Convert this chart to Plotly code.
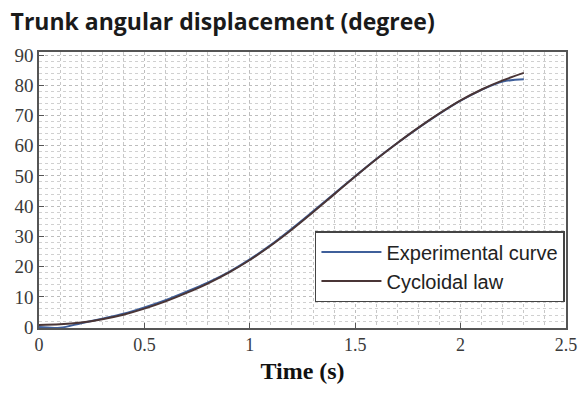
import plotly.graph_objects as go

# Time samples (s)
time_s = [0.0, 0.1, 0.2, 0.3, 0.4, 0.5, 0.6, 0.7, 0.8, 0.9, 1.0, 1.1,
          1.2, 1.3, 1.4, 1.5, 1.6, 1.7, 1.8, 1.9, 2.0, 2.1, 2.2, 2.3]

# Measured trunk angle (degree)
experimental_deg = [0.0, -0.2, 1.3, 2.8, 4.4, 6.5, 8.9, 11.7, 14.7, 18.2, 22.4, 27.2,
                    32.6, 38.3, 44.1, 49.9, 55.6, 60.9, 65.9, 70.6, 74.9, 78.5, 81.2, 82.0]

# Cycloidal motion law (degree)
cycloidal_deg = [0.7, 0.9, 1.5, 2.6, 4.1, 6.1, 8.5, 11.3, 14.4, 18.0, 22.2, 27.0,
                 32.3, 38.0, 43.9, 49.8, 55.5, 60.9, 66.0, 70.7, 75.0, 78.6, 81.6, 84.1]

x_ticks = [0, 0.5, 1, 1.5, 2, 2.5]
x_ticklabels = ["0", "0.5", "1", "1.5", "2", "2.5"]
y_ticks = [0, 10, 20, 30, 40, 50, 60, 70, 80, 90]

fig = go.Figure()
fig.add_trace(go.Scatter(
    x=time_s, y=experimental_deg, mode="lines", name="Experimental curve",
    line=dict(color="#3f5f9a", width=2, shape="spline"),
))
fig.add_trace(go.Scatter(
    x=time_s, y=cycloidal_deg, mode="lines", name="Cycloidal law",
    line=dict(color="#4a3536", width=2, shape="spline"),
))

tick_font = dict(family="Liberation Serif", size=19, color="#3a3a3a")

fig.update_layout(
    width=588, height=405,
    margin=dict(l=39, r=11, t=52, b=77),
    paper_bgcolor="white", plot_bgcolor="white",
    title=dict(text="<b>Trunk angular displacement (degree)</b>",
               font=dict(family="Open Sans", size=23, color="#1a1a1a"),
               x=0.018, xanchor="left", y=0.945, yanchor="middle"),
    showlegend=True,
    legend=dict(x=0.998, xanchor="right", y=0.094, yanchor="bottom",
                bgcolor="white", bordercolor="#444444", borderwidth=1.5,
                font=dict(family="Liberation Sans", size=20, color="#222222"),
                itemwidth=60, tracegroupgap=0),
    xaxis=dict(
        range=[0, 2.5], tickvals=x_ticks, ticktext=x_ticklabels,
        ticks="inside", ticklen=5, tickcolor="#555555",
        showline=True, linecolor="#555555", linewidth=1.5, mirror=True,
        showgrid=True, gridcolor="#bdbdbd", gridwidth=1, griddash="dot",
        minor=dict(dtick=0.1, showgrid=True, gridcolor="#c8c8c8", griddash="dot"),
        zeroline=False, tickfont=dict(family="Liberation Serif", size=18, color="#3a3a3a"),
        title=dict(text="<b>Time (s)</b>", standoff=8,
                   font=dict(family="Liberation Serif", size=24, color="#111111")),
    ),
    yaxis=dict(
        range=[-0.3, 91], tickvals=y_ticks,
        ticks="inside", ticklen=5, tickcolor="#555555",
        showline=True, linecolor="#555555", linewidth=1.5, mirror=True,
        showgrid=True, gridcolor="#bdbdbd", gridwidth=1, griddash="dot",
        minor=dict(dtick=2, showgrid=True, gridcolor="#d0d0d0", griddash="dot"),
        zeroline=False, tickfont=tick_font,
    ),
)

fig.write_html("out.html")
